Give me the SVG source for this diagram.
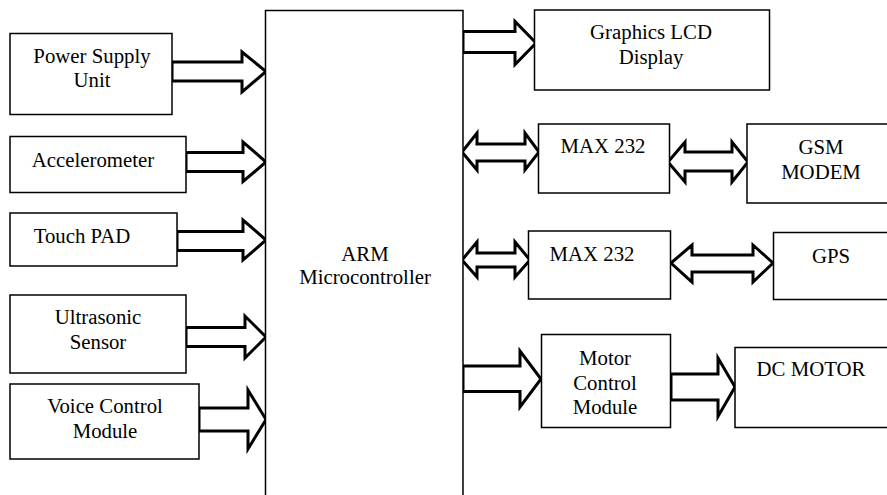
<svg xmlns="http://www.w3.org/2000/svg" width="887" height="495" viewBox="0 0 887 495">
<style>
.box{fill:#fff;stroke:#000;stroke-width:1.5}
.arr{fill:#fff;stroke:#000;stroke-width:3;stroke-linejoin:miter}
.t{font-family:'Liberation Serif','Times New Roman',serif;font-size:20.8px;fill:#000;text-anchor:middle}
</style>
<rect width="887" height="495" fill="#fff"/>
<g id="connectors">
<polygon class="arr" points="172,62 242,62 242,52 266,71.5 242,92 242,81 172,81"/>
<polygon class="arr" points="186,152.5 243,152.5 243,142 266,162 243,181.5 243,171.5 186,171.5"/>
<polygon class="arr" points="177,231.5 243,231.5 243,220 266,240 243,260 243,250.5 177,250.5"/>
<polygon class="arr" points="186,327.5 245,327.5 245,316 266,337 245,358 245,346.5 186,346.5"/>
<polygon class="arr" points="199,408 248,408 248,390 266,419.5 248,449 248,431 199,431"/>
<polygon class="arr" points="463,31.5 515,31.5 515,21.5 536,43 515,64.5 515,52.5 463,52.5"/>
<polygon class="arr" points="463,366 520,366 520,351 541,379 520,407 520,391.5 463,391.5"/>
<polygon class="arr" points="671,374 718,374 718,358 735,387 718,416.5 718,400 671,400"/>
<polygon class="arr" points="462,152 477,133 477,144 525,144 525,133 539,152 525,170 525,161 477,161 477,170"/>
<polygon class="arr" points="668,162 685,142 685,152 732,152 732,142 748,162 732,182 732,171 685,171 685,182"/>
<polygon class="arr" points="462,260 477,242 477,253 515,253 515,242 530,260 515,277 515,267 477,267 477,277"/>
<polygon class="arr" points="671,263 692,245 692,255 753,255 753,245 773,263 753,282 753,272 692,272 692,282"/>
</g>
<g id="arm"><rect class="box" x="265.5" y="10.5" width="197.5" height="500"/><text class="t" x="365" y="260.5">ARM</text><text class="t" x="365" y="284">Microcontroller</text></g>
<g id="psu"><rect class="box" x="10" y="33.5" width="162" height="81"/><text class="t" x="92" y="63">Power Supply</text><text class="t" x="92" y="87">Unit</text></g>
<g id="accel"><rect class="box" x="10" y="136.5" width="176" height="56"/><text class="t" x="93" y="166.5">Accelerometer</text></g>
<g id="touch"><rect class="box" x="10" y="213" width="167" height="53"/><text class="t" x="82" y="243">Touch PAD</text></g>
<g id="ultra"><rect class="box" x="10" y="295" width="176" height="78"/><text class="t" x="98" y="324">Ultrasonic</text><text class="t" x="98" y="349">Sensor</text></g>
<g id="voice"><rect class="box" x="10" y="384" width="189" height="75"/><text class="t" x="105" y="413">Voice Control</text><text class="t" x="105" y="437.5">Module</text></g>
<g id="lcd"><rect class="box" x="534.5" y="10" width="235" height="80"/><text class="t" x="651" y="39">Graphics LCD</text><text class="t" x="651" y="64">Display</text></g>
<g id="max1"><rect class="box" x="538.5" y="124" width="131" height="69"/><text class="t" x="603" y="153">MAX 232</text></g>
<g id="gsm"><rect class="box" x="747" y="124" width="150" height="79"/><text class="t" x="821" y="154">GSM</text><text class="t" x="821" y="179">MODEM</text></g>
<g id="max2"><rect class="box" x="528.5" y="231" width="142" height="68"/><text class="t" x="592" y="261">MAX 232</text></g>
<g id="gps"><rect class="box" x="773.5" y="232.5" width="130" height="67"/><text class="t" x="831" y="263">GPS</text></g>
<g id="motor"><rect class="box" x="541.5" y="334.5" width="129" height="93"/><text class="t" x="605" y="365">Motor</text><text class="t" x="605" y="390">Control</text><text class="t" x="605" y="413.5">Module</text></g>
<g id="dc"><rect class="box" x="735" y="347.5" width="160" height="80"/><text class="t" x="811" y="376">DC MOTOR</text></g>
</svg>
